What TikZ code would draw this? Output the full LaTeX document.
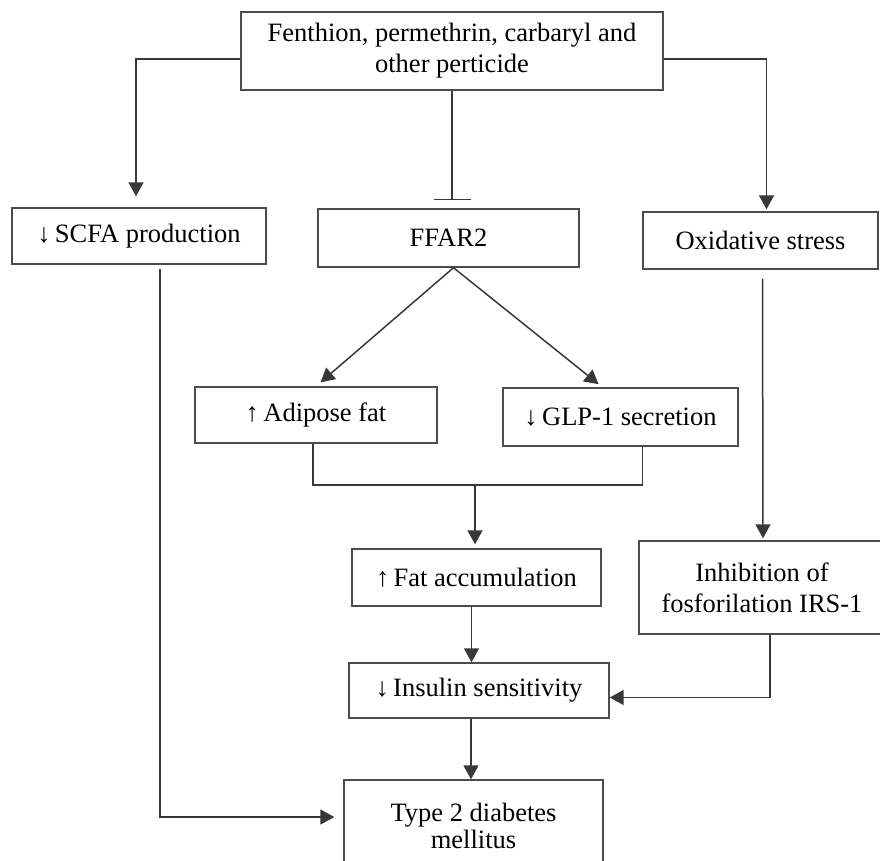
\documentclass[tikz,border=0pt]{standalone}
\usepackage{fontspec}
\setmainfont{Liberation Serif}
\usetikzlibrary{arrows.meta}

\begin{document}
\begin{tikzpicture}[x=1pt, y=-1pt,
    block/.style={rectangle, draw=black!70, line width=1.4pt, fill=white, align=center, inner sep=0pt, font=\fontsize{26.5}{31}\selectfont},
    line/.style={line width=1.5pt, draw=black!78},
    arrow/.style={line, -{Triangle[width=15pt,length=14pt]}},
    inhibit/.style={line, -{Bar[width=37pt]}}]
    \useasboundingbox (0,0) rectangle (880,860);
    \clip (0,0) rectangle (880,860);

    \node [block, minimum width=422pt, minimum height=78pt] (pest) at (452,51) {Fenthion, permethrin, carbaryl and\\other perticide};
    \node [block, minimum width=254pt, minimum height=56pt] (scfa) at (139,236) {↓\,SCFA production};
    \node [block, minimum width=261pt, minimum height=58pt] (ffar) at (448.5,238) {FFAR2};
    \node [block, minimum width=235pt, minimum height=57pt] (oxid) at (760.5,240.5) {Oxidative stress};
    \node [block, minimum width=242pt, minimum height=56pt] (adip) at (316,415) {↑\,Adipose fat};
    \node [block, minimum width=235pt, minimum height=58pt] (glp) at (620.5,417) {↓\,GLP-1 secretion};
    \node [block, minimum width=249pt, minimum height=57pt] (fatacc) at (476.5,577.5) {↑\,Fat accumulation};
    \node [block, minimum width=246pt, minimum height=93pt] (inhib) at (762,587.5) {Inhibition of\\fosforilation IRS-1};
    \node [block, minimum width=260pt, minimum height=55pt] (insulin) at (479,690.5) {↓\,Insulin sensitivity};
    \node [block, minimum width=259pt, minimum height=92pt, font=\fontsize{26.5}{27}\selectfont] (t2d) at (473.5,826) {Type 2 diabetes\\mellitus};
    \coordinate (merge) at (475,485);

    % from the pesticides
    \draw [arrow, shorten >=11pt] ([yshift=-8pt]pest.west) -| ([xshift=-3pt]scfa.north);
    \draw [inhibit, shorten >=8pt] (pest.south) -- (pest.south |- ffar.north);
    \draw [arrow, shorten >=2pt] ([yshift=-8pt]pest.east) -| ([xshift=6pt]oxid.north);

    % FFAR2 branch
    \draw [arrow, shorten >=6pt] ([xshift=5pt]ffar.south) -- (adip.north);
    \draw [arrow, shorten >=5pt] ([xshift=5pt]ffar.south) -- ([xshift=-18pt]glp.north);
    \draw [line] ([xshift=-3pt]adip.south) |- (merge) -| ([xshift=22pt]glp.south);
    \draw [arrow, shorten >=4pt] (merge) -- (merge |- fatacc.north);
    \draw [arrow] ([xshift=-5pt]fatacc.south) -- ([xshift=-5pt]fatacc.south |- insulin.north);
    \draw [arrow] ([xshift=-8pt]insulin.south) -- ([xshift=-8pt]insulin.south |- t2d.north);

    % oxidative stress branch
    \draw [arrow, shorten <=9pt, shorten >=2pt] ([xshift=2pt]oxid.south) -- ([xshift=1pt]inhib.north);
    \draw [arrow] ([xshift=8pt]inhib.south) |- ([yshift=-7pt]insulin.east);

    % SCFA to diabetes
    \draw [arrow, shorten <=4pt, shorten >=9pt] ([xshift=21pt]scfa.south) |- ([yshift=9pt]t2d.west);
\end{tikzpicture}
\end{document}
